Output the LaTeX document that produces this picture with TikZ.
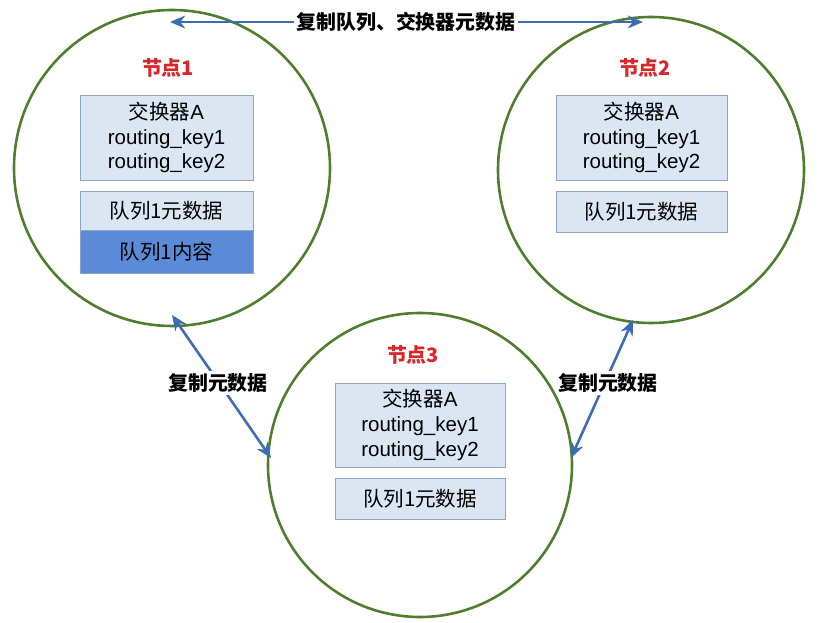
\documentclass[tikz,border=0pt]{standalone}
\usepackage{fontspec}
\setmainfont{Liberation Sans}
\newfontfamily\cjk{Noto Sans CJK SC}
\usetikzlibrary{arrows.meta}
\definecolor{circ}{HTML}{4E7D2E}
\definecolor{boxf}{HTML}{DCE5F2}
\definecolor{boxd}{HTML}{8EA3C9}
\definecolor{dark}{HTML}{5B8BD8}
\definecolor{arr}{HTML}{3C6CB4}
\definecolor{red1}{HTML}{D8262A}
\begin{document}
\begin{tikzpicture}[x=0.03cm,y=-0.03cm,
  ring/.style={draw=circ,line width=2.2pt,circle},
  lbox/.style={draw=boxd,fill=boxf,line width=0.8pt},
  dbox/.style={draw=boxd,fill=dark,line width=0.8pt},
  txt/.style={font=\fontsize{17.5}{21}\selectfont,align=center},
  title/.style={font=\cjk\bfseries\fontsize{17}{20}\selectfont,text=red1},
  lab/.style={font=\cjk\bfseries\fontsize{17}{20}\selectfont,fill=white,inner sep=2pt},
  link/.style={draw=arr,line width=2.2pt,{Stealth[length=13pt,width=11pt]}-{Stealth[length=13pt,width=11pt]}}]
\useasboundingbox (0,0) rectangle (827,623);
\draw[ring] (172,168) circle (158);
\draw[ring] (651,170) circle (153);
\draw[ring] (420,465) circle (152);
% node 1
\node[title] (t1) at (168,68) {节点1};
\draw[lbox] (80,95) rectangle (253,180);
\node[txt] (a1) at (166.5,137.5) {{\cjk 交换器}A\\routing\_key1\\routing\_key2};
\draw[lbox] (80,191) rectangle (253,230);
\node[txt] (q1) at (166.5,210.5) {\cjk 队列1元数据};
\draw[dbox] (80,230) rectangle (253,273);
\node[txt] (c1) at (166.5,251.5) {\cjk 队列1内容};
% node 2
\node[title] (t2) at (645,68) {节点2};
\draw[lbox] (556,95) rectangle (727,180);
\node[txt] (a2) at (641.5,137.5) {{\cjk 交换器}A\\routing\_key1\\routing\_key2};
\draw[lbox] (556,191) rectangle (727,232);
\node[txt] (q2) at (641.5,211.5) {\cjk 队列1元数据};
% node 3
\node[title] (t3) at (413,355) {节点3};
\draw[lbox] (335,383) rectangle (505,467);
\node[txt] (a3) at (420,425) {{\cjk 交换器}A\\routing\_key1\\routing\_key2};
\draw[lbox] (335,478) rectangle (505,519);
\node[txt] (q3) at (420,498.5) {\cjk 队列1元数据};
% arrows
\coordinate (p1) at (170,22); \coordinate (p2) at (643,22);
\coordinate (p3) at (172,315); \coordinate (p4) at (271,458);
\coordinate (p5) at (633,320); \coordinate (p6) at (571,458);
\draw[link] (p1) -- (p2);
\draw[link] (p3) -- (p4);
\draw[link] (p5) -- (p6);
\node[lab] (l1) at (406,22) {复制队列、交换器元数据};
\node[lab] (l2) at (218,383) {复制元数据};
\node[lab] (l3) at (608,383) {复制元数据};
\end{tikzpicture}
\end{document}
